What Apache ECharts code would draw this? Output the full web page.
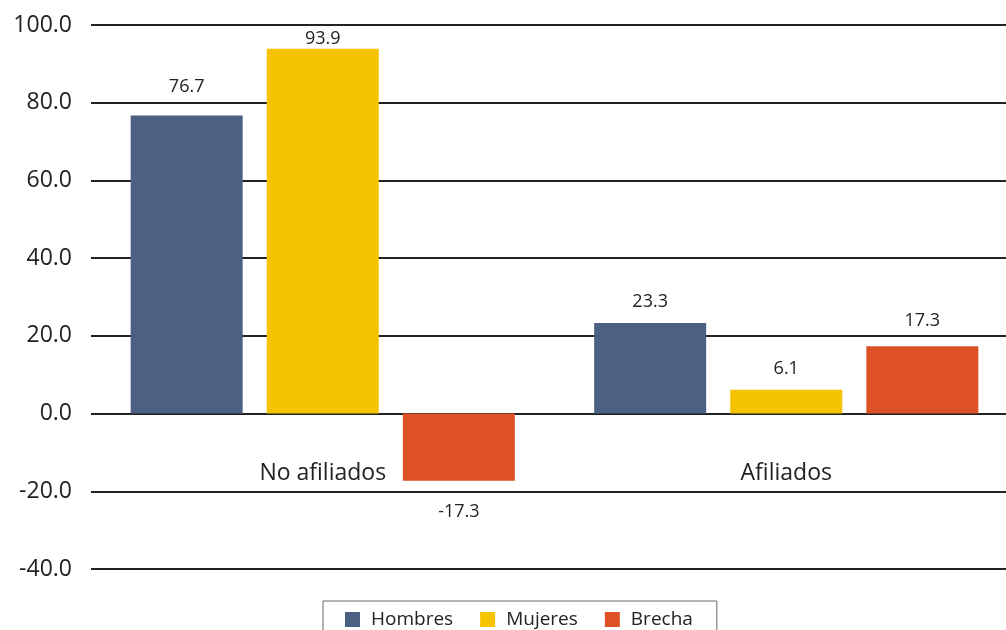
<!DOCTYPE html>
<html>
<head>
<meta charset="utf-8">
<script src="https://cdn.jsdelivr.net/npm/echarts@6/dist/echarts.min.js"></script>
<style>html,body{margin:0;padding:0;background:#fff}#c{width:1006px;height:630px}</style>
</head>
<body>
<div id="c"></div>
<script>
const categories = ['No afiliados', 'Afiliados'];
const hombres = [76.7, 23.3];
const mujeres = [93.9, 6.1];
const brecha = [-17.3, 17.3];
const yTicks = [-40, -20, 0, 20, 40, 60, 80, 100];

// label gap per bar (style only, not data)
const labelGap = {Hombres: [20, 12], Mujeres: [1, 12], Brecha: [22, 16]};

const FONT = 'Open Sans';
const chart = echarts.init(document.getElementById('c'), null, {renderer: 'canvas'});

function mk(name, data, color) {
  return {
    name: name,
    type: 'bar',
    barWidth: 112,
    barGap: '21.5%',
    itemStyle: {color: color},
    label: {
      show: true,
      position: 'top',
      color: '#222',
      fontFamily: FONT,
      fontSize: 18,
      formatter: p => p.value.toFixed(1)
    },
    data: data.map((v, i) => ({
      value: v,
      label: {position: v < 0 ? 'bottom' : 'top', distance: labelGap[name][i]}
    }))
  };
}

chart.setOption({
  animation: false,
  textStyle: {fontFamily: FONT},
  grid: {left: 91, right: -12, top: 25, bottom: 61, containLabel: false, outerBoundsMode: 'none'},
  legend: {
    top: 601,
    left: 323,
    padding: [9, 24, 6, 22],
    borderColor: '#666',
    borderWidth: 1,
    borderRadius: 0,
    itemWidth: 15,
    itemHeight: 15,
    itemGap: 27,
    icon: 'rect',
    textStyle: {fontFamily: FONT, fontSize: 19, color: '#222', padding: [0, 0, 0, 6]},
    data: ['Hombres', 'Mujeres', 'Brecha']
  },
  xAxis: {
    type: 'category',
    data: categories,
    axisLine: {show: false},
    axisTick: {show: false},
    axisLabel: {margin: -107, fontFamily: FONT, fontSize: 23, color: '#222'}
  },
  yAxis: {
    type: 'value',
    min: yTicks[0],
    max: yTicks[yTicks.length - 1],
    interval: 20,
    axisLine: {show: false},
    axisTick: {show: false},
    splitLine: {lineStyle: {color: '#222', width: 2}},
    axisLabel: {margin: 19, fontFamily: FONT, fontSize: 23, color: '#222', formatter: v => v.toFixed(1)}
  },
  series: [
    mk('Hombres', hombres, '#4b6082'),
    mk('Mujeres', mujeres, '#f5c300'),
    mk('Brecha', brecha, '#de5126')
  ]
});
</script>
</body>
</html>
